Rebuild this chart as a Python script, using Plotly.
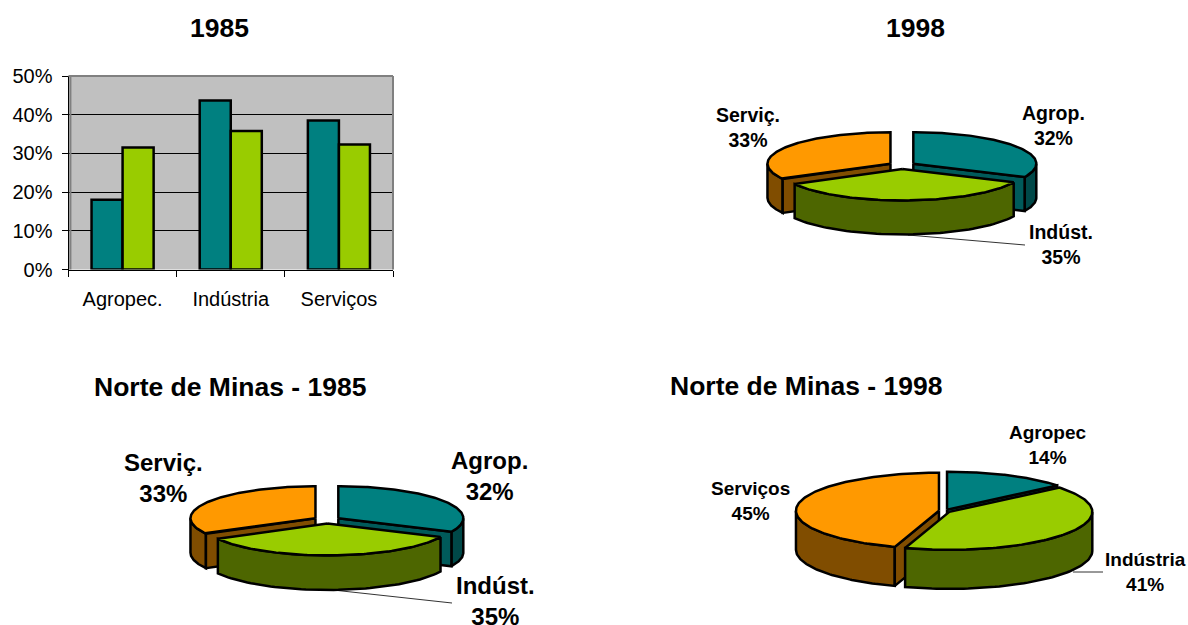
import numpy as np
import plotly.graph_objects as go

W, H = 1188, 625

# --- data ---
bar_categories = ["Agropec.", "Indústria", "Serviços"]
bar_series_a = [18, 43.7, 38.5]
bar_series_b = [31.5, 35.8, 32.3]
bar_ticks = [0, 10, 20, 30, 40, 50]

pie1_names = ["Agrop.", "Indúst.", "Serviç."]
pie1_values = [32, 35, 33]
pie2_names = ["Agrop.", "Indúst.", "Serviç."]
pie2_values = [32, 35, 33]
pie3_names = ["Agropec", "Indústria", "Serviços"]
pie3_values = [14, 41, 45]

TEAL, GREEN, ORANGE = "#008080", "#99CC00", "#FF9900"
DTEAL, DGREEN, DORANGE = "#004848", "#4D6600", "#804D00"
RTEAL = "#005A5A"
FONT = "Liberation Sans, Arial, sans-serif"

# --- pie layouts (pixels in the overlay coordinate system) ---
pie_layouts = [
    dict(values=pie1_values, names=pie1_names, cx=902, cy=165.5, a=123, b=31.5, depth=34, explode=13.4, size=19.5,
         labels=[(1053, 125.5), (1061, 244), (748, 128)],
         leader=((908, 235), (1025, 245))),
    dict(values=pie2_values, names=pie2_names, cx=327, cy=520, a=125, b=32, depth=34.5, explode=13.4, size=24,
         labels=[(489, 475.5), (495, 601), (163, 477.5)],
         leader=((333, 590), (452, 603))),
    dict(values=pie3_values, names=pie3_names, cx=944.6, cy=511, a=143, b=38, depth=39, explode=5.7, size=19,
         labels=[(1048, 445), (1145, 572), (750, 501)],
         leader=((1073, 572), (1103, 572))),
]


def pt(c, t, p):
    """Screen position of angle t (deg, clockwise from top) for a slice centre c."""
    r = np.radians(t)
    return c[0] + p["a"] * np.sin(r), c[1] - p["b"] * np.cos(r)


def poly(xs, ys, color, width=2.5):
    return go.Scatter(x=list(xs) + [xs[0]], y=list(ys) + [ys[0]], mode="lines", fill="toself",
                      fillcolor=color, line=dict(color="black", width=width), xaxis="x2", yaxis="y2",
                      hoverinfo="skip", showlegend=False)


def slice_traces(p, start, end, col, dark, radial):
    mid = np.radians((start + end) / 2)
    c = (p["cx"] + p["explode"] * np.sin(mid),
         p["cy"] - p["explode"] * np.cos(mid) * p["b"] / p["a"])
    d = p["depth"]
    out = []
    # outer wall: the part of the rim on the near side (90..270 degrees)
    s, e = max(start, 90), min(end, 270)
    if e > s:
        ts = np.linspace(s, e, 60)
        xs, ys = pt(c, ts, p)
        out.append(poly(np.r_[xs, xs[::-1]], np.r_[ys, ys[::-1] + d], dark))
    # radial walls that face the viewer
    for t, visible in ((start, 180 < start < 360), (end, 0 < end < 180)):
        if visible:
            x, y = pt(c, t, p)
            out.append(poly([c[0], x, x, c[0]], [c[1], y, y + d, c[1] + d], radial))
    ts = np.linspace(start, end, 120)
    xs, ys = pt(c, ts, p)
    out.append(poly(np.r_[c[0], xs], np.r_[c[1], ys], col))
    return out


fig = go.Figure()

# --- bar chart ---
fig.add_trace(go.Bar(x=bar_categories, y=bar_series_a, marker=dict(color=TEAL, line=dict(color="black", width=2.5)),
                     showlegend=False, hoverinfo="skip"))
fig.add_trace(go.Bar(x=bar_categories, y=bar_series_b, marker=dict(color=GREEN, line=dict(color="black", width=2.5)),
                     showlegend=False, hoverinfo="skip"))

annotations = []
colours = [(TEAL, DTEAL, RTEAL), (GREEN, DGREEN, DGREEN), (ORANGE, DORANGE, DORANGE)]
draw_order = [2, 0, 1]

for p in pie_layouts:
    vals = np.array(p["values"], dtype=float)
    bounds = np.r_[0, np.cumsum(vals)] / vals.sum() * 360
    # leader sits behind the pie
    (x0, y0), (x1, y1) = p["leader"]
    fig.add_trace(go.Scatter(x=[x0, x1], y=[y0, y1], mode="lines", line=dict(color="#333333", width=1),
                             xaxis="x2", yaxis="y2", hoverinfo="skip", showlegend=False))
    for i in draw_order:
        for tr in slice_traces(p, bounds[i], bounds[i + 1], *colours[i]):
            fig.add_trace(tr)
    for name, v, (lx, ly) in zip(p["names"], p["values"], p["labels"]):
        annotations.append(dict(x=lx / W, y=1 - ly / H, xref="paper", yref="paper", showarrow=False,
                                text=f"<b>{name}<br>{v}%</b>", align="center", xanchor="center", yanchor="middle",
                                font=dict(family=FONT, size=p["size"], color="black")))

for txt, x, y in [("1985", 219, 28), ("1998", 915, 28),
                  ("Norte de Minas - 1985", 230, 387), ("Norte de Minas - 1998", 806, 386)]:
    annotations.append(dict(x=x / W, y=1 - y / H, xref="paper", yref="paper", showarrow=False,
                            text=f"<b>{txt}</b>", xanchor="center", yanchor="middle",
                            font=dict(family=FONT, size=26.5, color="black")))

fig.update_layout(
    width=W, height=H, margin=dict(l=0, r=0, t=0, b=0, autoexpand=False),
    paper_bgcolor="white", plot_bgcolor="rgba(0,0,0,0)",
    barmode="group", bargap=0.426, bargroupgap=0,
    font=dict(family=FONT, size=20, color="black"),
    annotations=annotations,
    xaxis=dict(domain=[68.5 / W, 393 / W], type="category", tickson="boundaries", ticks="outside", ticklen=6,
               tickcolor="black", linecolor="black", linewidth=1, showgrid=False, range=[-0.5, 2.5],
               mirror=False, anchor="y", tickfont=dict(size=20), fixedrange=True, automargin=False,
               ticklabelstandoff=11),
    yaxis=dict(domain=[1 - 269.5 / H, 1 - 76 / H], range=[0, 50], tickvals=bar_ticks,
               ticktext=[f"{t}%" for t in bar_ticks], ticks="outside", ticklen=6, tickcolor="black",
               linecolor="black", linewidth=1, gridcolor="black", gridwidth=1, zeroline=False,
               anchor="x", tickfont=dict(size=20), fixedrange=True, automargin=False, ticklabelstandoff=5),
    xaxis2=dict(domain=[0, 1], range=[0, W], visible=False, anchor="y2", fixedrange=True, automargin=False),
    yaxis2=dict(domain=[0, 1], range=[H, 0], visible=False, anchor="x2", fixedrange=True, automargin=False),
    shapes=[
        dict(type="rect", xref="x domain", yref="y domain", x0=0, x1=1, y0=0, y1=1, layer="below",
             fillcolor="#C0C0C0", line=dict(width=0)),
        dict(type="line", xref="x domain", yref="y domain", x0=0, x1=1, y0=1, y1=1,
             line=dict(color="#808080", width=2)),
        dict(type="line", xref="x domain", yref="y domain", x0=1, x1=1, y0=0, y1=1,
             line=dict(color="#808080", width=2)),
        dict(type="line", xref="x domain", yref="y domain", x0=0.006, x1=0.006, y0=0, y1=1,
             line=dict(color="#808080", width=2)),
    ],
)

fig.write_html("out.html", config=dict(displayModeBar=False), post_script=(
    "document.body.style.margin='0';"
    "var d=document.getElementById('{plot_id}');"
    "d.style.position='fixed';d.style.left='0';d.style.top='0';"
))
